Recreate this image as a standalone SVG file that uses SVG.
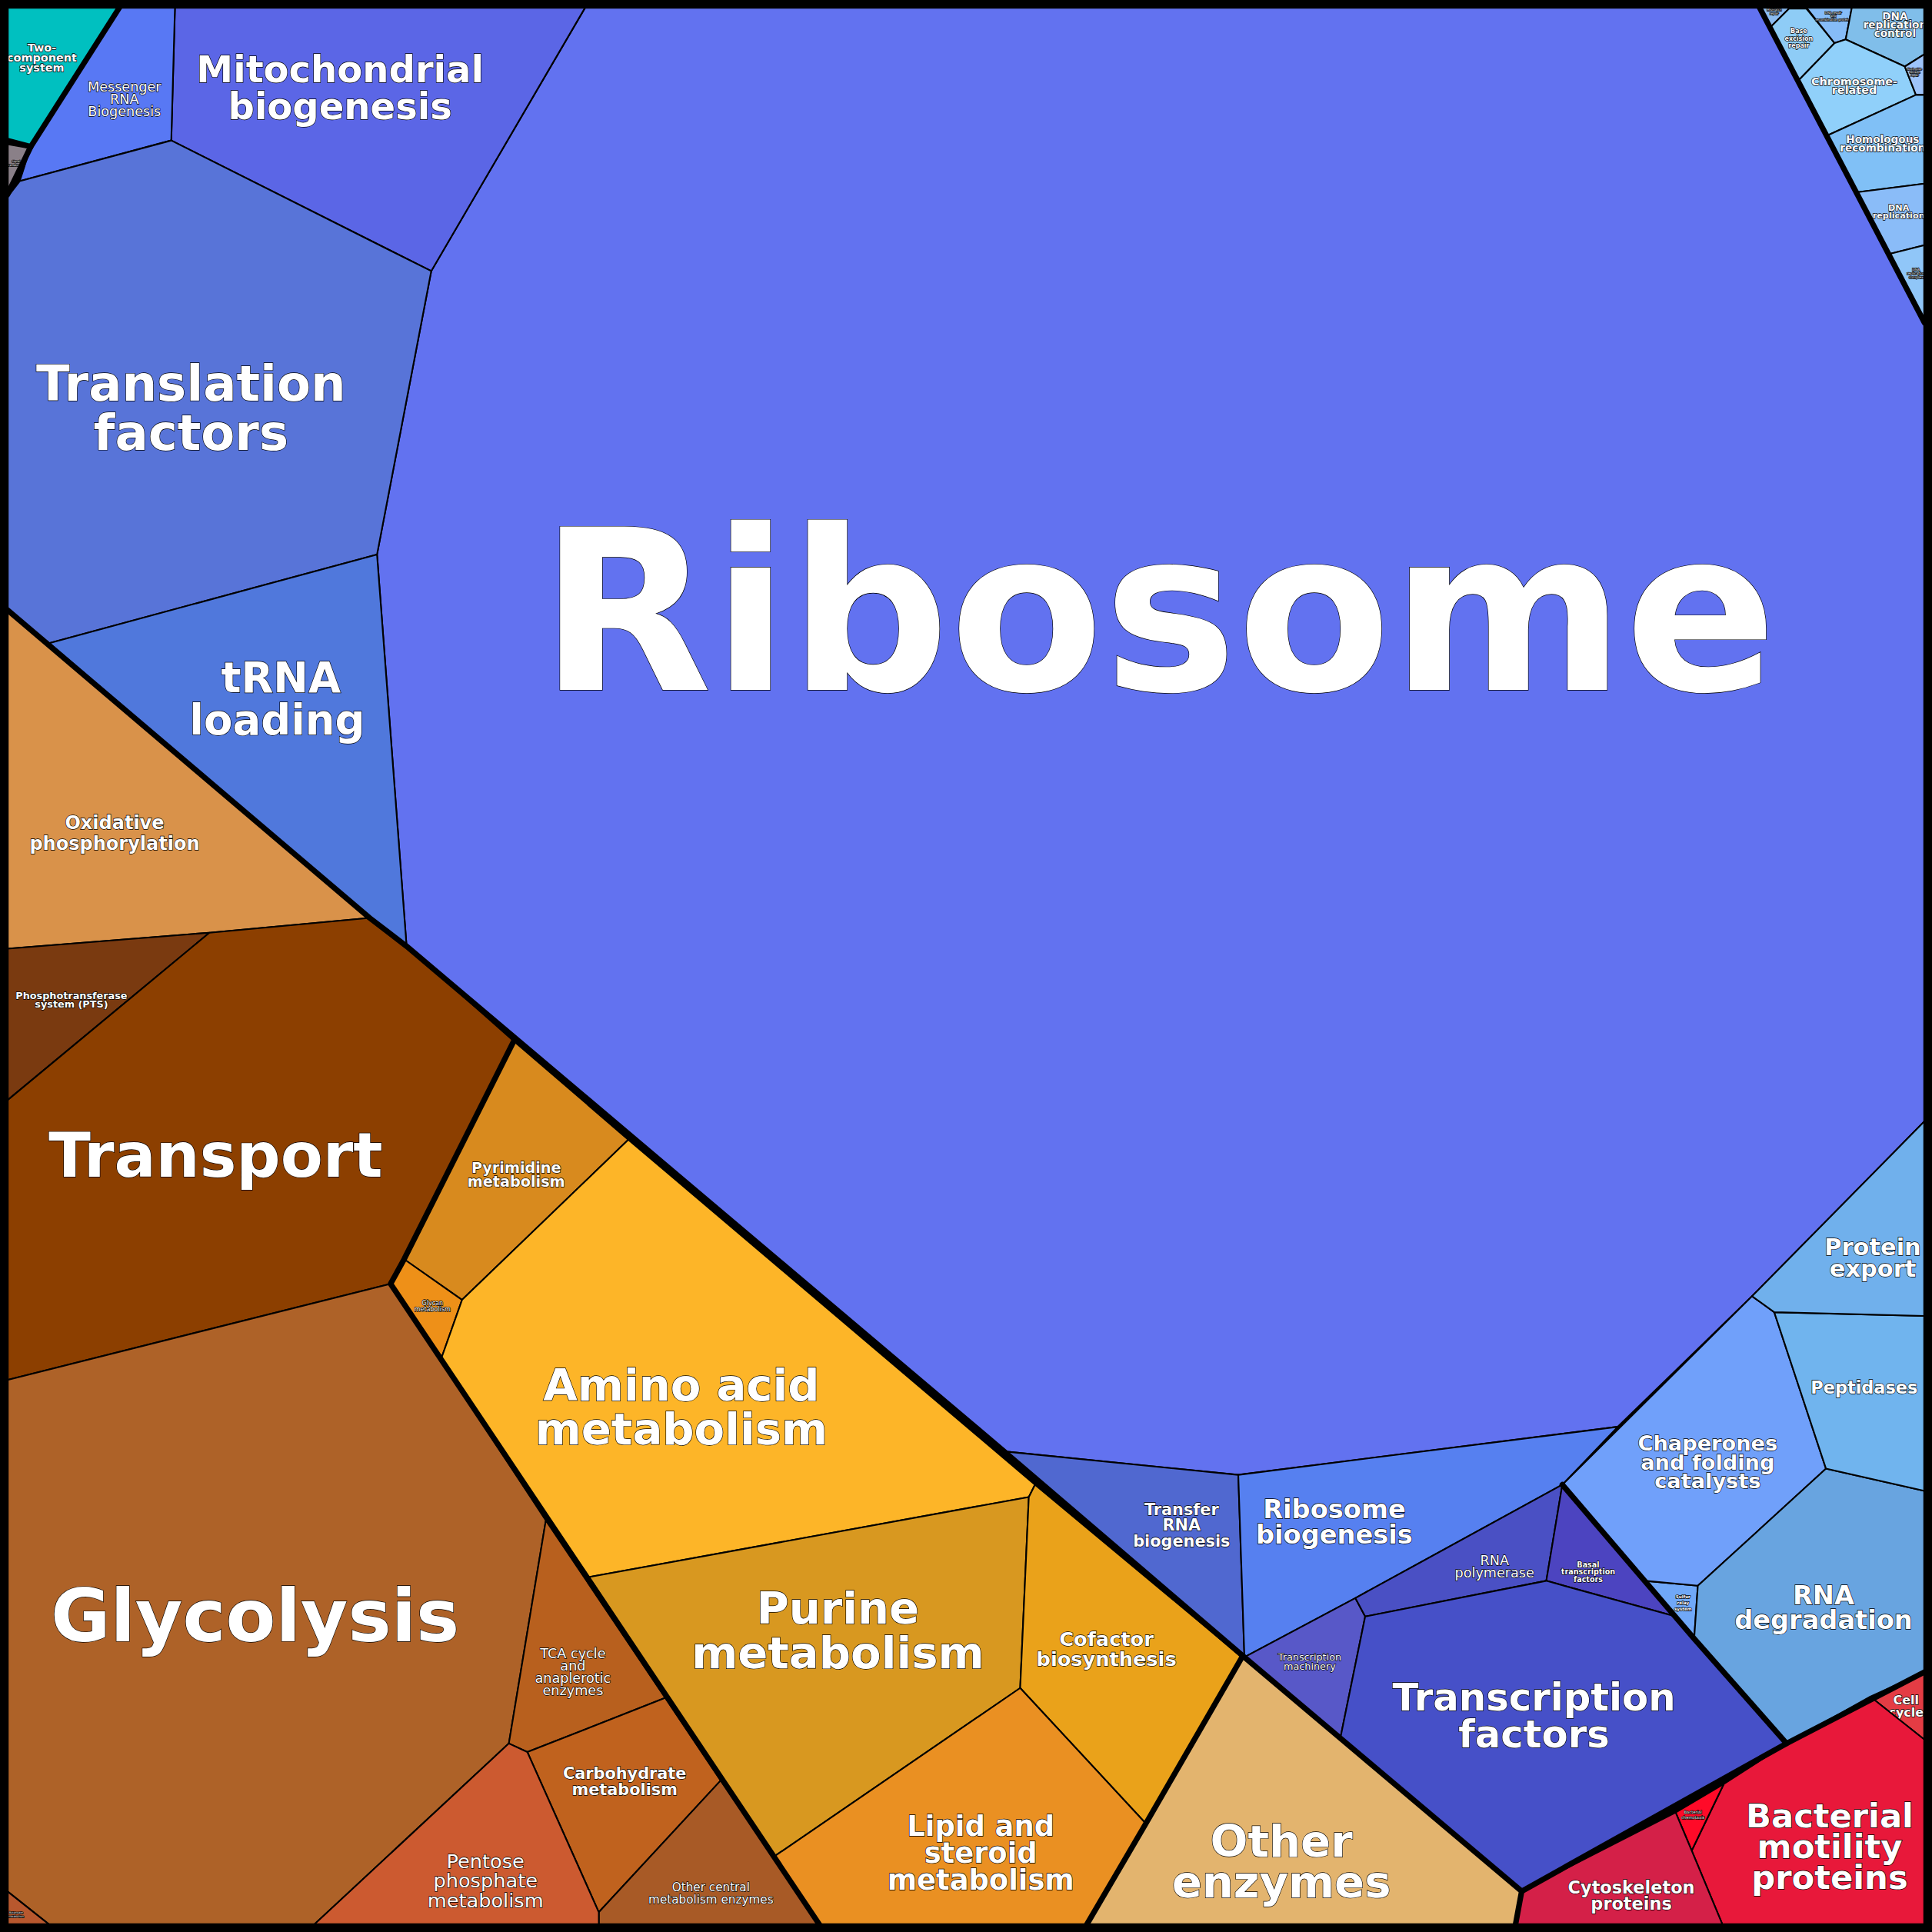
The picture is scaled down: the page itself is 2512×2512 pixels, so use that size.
<svg xmlns="http://www.w3.org/2000/svg" width="2512" height="2512" viewBox="0 0 2512 2512">
<style>
.c{stroke:#000;stroke-width:1.3;stroke-linejoin:round}
.t{fill:#fff;font-family:"DejaVu Sans",sans-serif;font-weight:bold;text-anchor:middle;stroke:#000;stroke-width:0.8;paint-order:stroke}
.n{font-weight:normal}
.k{fill:none;stroke:#000;stroke-width:4.5;stroke-linejoin:round;stroke-linecap:round}
</style>
<rect width="2512" height="2512" fill="#000"/>
<g transform="scale(1.602)">
<g id="ribosome"><polygon class="c" fill="#6272F0" points="475,6 1428,6 1562,262 1562,910 1422,1052 1313,1158 1005,1197 815,1178 330,768 306,450 350,220"/><text class="t" font-size="182" stroke-width="1" x="940" y="560">Ribosome</text></g>
<g id="mito"><polygon class="c" fill="#5B66E6" points="142,6 475,6 350,220 139,114"/><text class="t" font-size="30"><tspan x="276" y="67">Mitochondrial</tspan><tspan x="276" y="97">biogenesis</tspan></text></g>
<g id="mrna"><polygon class="c" fill="#5878F4" points="97,6 142,6 139,114 16,147 25,119"/><text class="t n" font-size="11" stroke-width="0.4"><tspan x="101" y="74">Messenger</tspan><tspan x="101" y="84">RNA</tspan><tspan x="101" y="94">Biogenesis</tspan></text></g>
<g id="twocomp"><polygon class="c" fill="#00C0C0" points="6,6 97,6 25,119 6,114"/><text class="t" font-size="9" stroke-width="0.3"><tspan x="34" y="42">Two-</tspan><tspan x="34" y="50">component</tspan><tspan x="34" y="58">system</tspan></text></g>
<g id="gray"><polygon class="c" fill="#8A8088" points="6,117 23,120 8,153 6,153"/><text class="t n" font-size="2.2" stroke-width="0"><tspan x="13" y="132">Signal</tspan><tspan x="13" y="135">transduction</tspan></text></g>
<g id="translation"><polygon class="c" fill="#5874D8" points="16,147 139,114 350,220 306,450 40,522 6,495 6,160"/><text class="t" font-size="40"><tspan x="155" y="325">Translation</tspan><tspan x="155" y="365">factors</tspan></text></g>
<g id="trna"><polygon class="c" fill="#5078DC" points="40,522 306,450 330,768 300,745"/><text class="t" font-size="34"><tspan x="228" y="562">tRNA</tspan><tspan x="225" y="596">loading</tspan></text></g>

<g id="oxphos"><polygon class="c" fill="#D9924A" points="6,495 300,745 170,757 6,770"/><text class="t" font-size="15" stroke-width="0.5"><tspan x="93" y="673">Oxidative</tspan><tspan x="93" y="690">phosphorylation</tspan></text></g>
<g id="pts"><polygon class="c" fill="#7A3A10" points="6,770 170,757 6,893"/><text class="t" font-size="8" stroke-width="0.3"><tspan x="58" y="811">Phosphotransferase</tspan><tspan x="58" y="818">system (PTS)</tspan></text></g>
<g id="transport"><polygon class="c" fill="#8C3F00" points="170,757 300,745 330,768 417,845 328,1022 317,1042 6,1120 6,893"/><text class="t" font-size="50" x="175" y="955">Transport</text></g>
<g id="pyrimidine"><polygon class="c" fill="#D88A1E" points="417,845 510,925 375,1055 328,1022"/><text class="t" font-size="12" stroke-width="0.4"><tspan x="419" y="952">Pyrimidine</tspan><tspan x="419" y="963">metabolism</tspan></text></g>
<g id="glycan"><polygon class="c" fill="#EE9018" points="328,1022 375,1055 358,1103 317,1042"/><text class="t n" font-size="5" stroke-width="0.2"><tspan x="351" y="1059">Glycan</tspan><tspan x="351" y="1064">metabolism</tspan></text></g>
<g id="aminoacid"><polygon class="c" fill="#FDB528" points="510,925 840,1205 835,1215 478,1280 358,1103 375,1055"/><text class="t" font-size="36"><tspan x="553" y="1137">Amino acid</tspan><tspan x="553" y="1172">metabolism</tspan></text></g>
<g id="glycolysis"><polygon class="c" fill="#AE6228" points="6,1120 317,1042 443,1234 413,1415 255,1562 40,1562 6,1535"/><text class="t" font-size="59" x="207" y="1332">Glycolysis</text></g>
<g id="butanoate"><polygon class="c" fill="#B8582E" points="6,1535 40,1562 6,1562"/><text class="t n" font-size="2.2" stroke-width="0"><tspan x="13" y="1553">Butanoate</tspan><tspan x="13" y="1556">metabolism</tspan></text></g>
<g id="tca"><polygon class="c" fill="#B8601E" points="443,1234 540,1378 428,1422 413,1415"/><text class="t n" font-size="11" stroke-width="0.4"><tspan x="465" y="1346">TCA cycle</tspan><tspan x="465" y="1356">and</tspan><tspan x="465" y="1366">anaplerotic</tspan><tspan x="465" y="1376">enzymes</tspan></text></g>
<g id="carbo"><polygon class="c" fill="#C0621E" points="428,1422 540,1378 585,1445 486,1552"/><text class="t" font-size="13" stroke-width="0.4"><tspan x="507" y="1444">Carbohydrate</tspan><tspan x="507" y="1457">metabolism</tspan></text></g>
<g id="othercentral"><polygon class="c" fill="#A85A26" points="585,1445 665,1562 486,1562 486,1552"/><text class="t n" font-size="9.5" stroke-width="0.3"><tspan x="577" y="1535">Other central</tspan><tspan x="577" y="1545">metabolism enzymes</tspan></text></g>
<g id="pentose"><polygon class="c" fill="#CC5A30" points="413,1415 428,1422 486,1552 486,1562 255,1562"/><text class="t n" font-size="16" stroke-width="0.5"><tspan x="394" y="1516">Pentose</tspan><tspan x="394" y="1532">phosphate</tspan><tspan x="394" y="1548">metabolism</tspan></text></g>
<g id="purine"><polygon class="c" fill="#D89820" points="478,1280 835,1215 828,1370 628,1507"/><text class="t" font-size="36"><tspan x="680" y="1318">Purine</tspan><tspan x="680" y="1354">metabolism</tspan></text></g>
<g id="cofactor"><polygon class="c" fill="#EAA21A" points="840,1205 1008,1345 930,1480 828,1370 835,1215"/><text class="t" font-size="16" stroke-width="0.5"><tspan x="898" y="1336">Cofactor</tspan><tspan x="898" y="1352">biosynthesis</tspan></text></g>
<g id="lipid"><polygon class="c" fill="#EA9022" points="628,1507 828,1370 930,1480 882,1562 665,1562"/><text class="t" font-size="23"><tspan x="796" y="1490">Lipid and</tspan><tspan x="796" y="1512">steroid</tspan><tspan x="796" y="1534">metabolism</tspan></text></g>
<g id="otherenz"><polygon class="c" fill="#E3B46E" points="930,1480 1008,1345 1235,1535 1230,1562 882,1562"/><text class="t" font-size="36"><tspan x="1040" y="1507">Other</tspan><tspan x="1040" y="1540">enzymes</tspan></text></g>

<g id="trnabiogen"><polygon class="c" fill="#5068D0" points="815,1178 1005,1197 1010,1345"/><text class="t" font-size="13" stroke-width="0.4"><tspan x="959" y="1230">Transfer</tspan><tspan x="959" y="1242">RNA</tspan><tspan x="959" y="1255">biogenesis</tspan></text></g>
<g id="ribobiogen"><polygon class="c" fill="#5680F0" points="1005,1197 1313,1158 1268,1205 1100,1297 1010,1345"/><text class="t" font-size="21" stroke-width="0.6"><tspan x="1083" y="1232">Ribosome</tspan><tspan x="1083" y="1253">biogenesis</tspan></text></g>
<g id="txmach"><polygon class="c" fill="#5858C8" points="1010,1345 1100,1297 1108,1312 1088,1410"/><text class="t n" font-size="8" stroke-width="0.3"><tspan x="1063" y="1348">Transcription</tspan><tspan x="1063" y="1355">machinery</tspan></text></g>
<g id="rnapol"><polygon class="c" fill="#4A50C4" points="1100,1297 1268,1205 1255,1283 1108,1312"/><text class="t n" font-size="11" stroke-width="0.3"><tspan x="1213" y="1270">RNA</tspan><tspan x="1213" y="1280">polymerase</tspan></text></g>
<g id="basaltf"><polygon class="c" fill="#4C44C0" points="1268,1205 1360,1312 1255,1283"/><text class="t" font-size="6" stroke-width="0.2"><tspan x="1289" y="1272">Basal</tspan><tspan x="1289" y="1278">transcription</tspan><tspan x="1289" y="1284">factors</tspan></text></g>
<g id="tf"><polygon class="c" fill="#4650C8" points="1108,1312 1255,1283 1360,1312 1375,1330 1450,1415 1235,1535 1088,1410"/><text class="t" font-size="31"><tspan x="1245" y="1388">Transcription</tspan><tspan x="1245" y="1418">factors</tspan></text></g>
<g id="sulfur"><polygon class="c" fill="#70A8F8" points="1335,1283 1378,1287 1375,1330"/><text class="t" font-size="3.5" stroke-width="0.1"><tspan x="1366" y="1297">Sulfur</tspan><tspan x="1366" y="1302">relay</tspan><tspan x="1366" y="1307">system</tspan></text></g>
<g id="chaperones"><polygon class="c" fill="#70A0FA" points="1268,1205 1422,1052 1440,1065 1482,1192 1378,1287 1335,1283"/><text class="t" font-size="17" stroke-width="0.5"><tspan x="1386" y="1177">Chaperones</tspan><tspan x="1386" y="1193">and folding</tspan><tspan x="1386" y="1208">catalysts</tspan></text></g>
<g id="rnadeg"><polygon class="c" fill="#68A4E0" points="1482,1192 1562,1210 1562,1357 1450,1415 1375,1330 1378,1287"/><text class="t" font-size="21" stroke-width="0.6"><tspan x="1480" y="1302">RNA</tspan><tspan x="1480" y="1322">degradation</tspan></text></g>
<g id="peptidases"><polygon class="c" fill="#70B4EE" points="1440,1065 1562,1068 1562,1210 1482,1192"/><text class="t" font-size="14" stroke-width="0.4" x="1513" y="1131">Peptidases</text></g>
<g id="protexport"><polygon class="c" fill="#70B0EC" points="1422,1052 1562,910 1562,1068 1440,1065"/><text class="t" font-size="19" stroke-width="0.5"><tspan x="1520" y="1019">Protein</tspan><tspan x="1520" y="1036">export</tspan></text></g>

<g id="cellcycle"><polygon class="c" fill="#E43C44" points="1518,1377 1562,1357 1562,1412"/><text class="t" font-size="10" stroke-width="0.3"><tspan x="1547" y="1383">Cell</tspan><tspan x="1547" y="1393">cycle</tspan></text></g>
<g id="motility"><polygon class="c" fill="#E8183A" points="1399,1448 1450,1415 1518,1377 1562,1412 1562,1562 1398,1562 1373,1502"/><text class="t" font-size="27"><tspan x="1485" y="1483">Bacterial</tspan><tspan x="1485" y="1508">motility</tspan><tspan x="1485" y="1533">proteins</tspan></text></g>
<g id="chemotaxis"><polygon class="c" fill="#FF0A28" points="1360,1471 1399,1448 1373,1502"/><text class="t n" font-size="3.3" stroke-width="0"><tspan x="1374" y="1472">Bacterial</tspan><tspan x="1374" y="1476">chemotaxis</tspan></text></g>
<g id="cytoskeleton"><polygon class="c" fill="#D42048" points="1235,1535 1360,1471 1373,1502 1398,1562 1230,1562"/><text class="t" font-size="14" stroke-width="0.4"><tspan x="1324" y="1537">Cytoskeleton</tspan><tspan x="1324" y="1550">proteins</tspan></text></g>

<g id="mismatch"><polygon class="c" fill="#8CBCF0" points="1427,6 1465,6 1452,7 1437,22 1430,8"/><text class="t n" font-size="2.5" stroke-width="0"><tspan x="1440" y="9">Mismatch</tspan><tspan x="1440" y="12">repair</tspan></text></g>
<g id="baseexc"><polygon class="c" fill="#8ECCF6" points="1437,22 1452,7 1466,7 1489,35 1459,66"/><text class="t" font-size="5" stroke-width="0.15"><tspan x="1460" y="27">Base</tspan><tspan x="1460" y="33">excision</tspan><tspan x="1460" y="38.5">repair</tspan></text></g>
<g id="dnarepair"><polygon class="c" fill="#86BCF8" points="1466,6 1503,6 1498,32 1489,35"/><text class="t n" font-size="2.5" stroke-width="0"><tspan x="1488" y="11">DNA repair</tspan><tspan x="1488" y="14">and</tspan><tspan x="1488" y="17">recombination proteins</tspan></text></g>
<g id="dnarepctl"><polygon class="c" fill="#80BEEA" points="1503,6 1562,6 1562,44 1546,54 1498,32"/><text class="t" font-size="8.5" stroke-width="0.25"><tspan x="1538" y="16">DNA</tspan><tspan x="1538" y="23">replication</tspan><tspan x="1538" y="30">control</tspan></text></g>
<g id="chromosome"><polygon class="c" fill="#90D0FA" points="1459,66 1489,35 1498,32 1546,54 1555,77 1483,110"/><text class="t" font-size="9" stroke-width="0.25"><tspan x="1505" y="69">Chromosome-</tspan><tspan x="1505" y="76">related</tspan></text></g>
<g id="nucexc"><polygon class="c" fill="#9EC4FA" points="1546,54 1562,44 1562,77 1555,77"/><text class="t n" font-size="2.2" stroke-width="0"><tspan x="1554" y="57">Nucleotide</tspan><tspan x="1554" y="59.5">excision</tspan><tspan x="1554" y="62">repair</tspan></text></g>
<g id="homologous"><polygon class="c" fill="#80C0F6" points="1483,110 1555,77 1562,77 1562,149 1507,156"/><text class="t" font-size="8.5" stroke-width="0.25"><tspan x="1528" y="116">Homologous</tspan><tspan x="1528" y="123">recombination</tspan></text></g>
<g id="dnarep"><polygon class="c" fill="#8ABCF8" points="1507,156 1562,149 1562,199 1534,206"/><text class="t" font-size="7" stroke-width="0.2"><tspan x="1541" y="171">DNA</tspan><tspan x="1541" y="177">replication</tspan></text></g>
<g id="dnarepcx"><polygon class="c" fill="#90C6F8" points="1534,206 1562,199 1562,262"/><text class="t n" font-size="2.8" stroke-width="0"><tspan x="1555" y="220">DNA</tspan><tspan x="1555" y="223">replication</tspan><tspan x="1555" y="226">complex</tspan></text></g>

<g id="connectors">
<polyline class="k" points="1428,6 1562,262"/>
<polyline class="k" points="97,6 25,119 6,158"/>
<polyline class="k" points="6,114 25,119"/>
<polyline class="k" points="6,495 300,745 330,768 815,1178 1010,1345 1235,1535 1230,1562"/>
<polyline class="k" points="417,845 328,1022 317,1042 665,1562"/>
<polyline class="k" points="1008,1345 930,1480 882,1562"/>
<polyline class="k" points="1268,1205 1375,1330 1450,1415"/>
<polyline class="k" points="1235,1535 1450,1415 1562,1357"/>
<rect x="4" y="4" width="1560" height="1560" fill="none" stroke="#000" stroke-width="6"/>
</g>
</g>
</svg>
